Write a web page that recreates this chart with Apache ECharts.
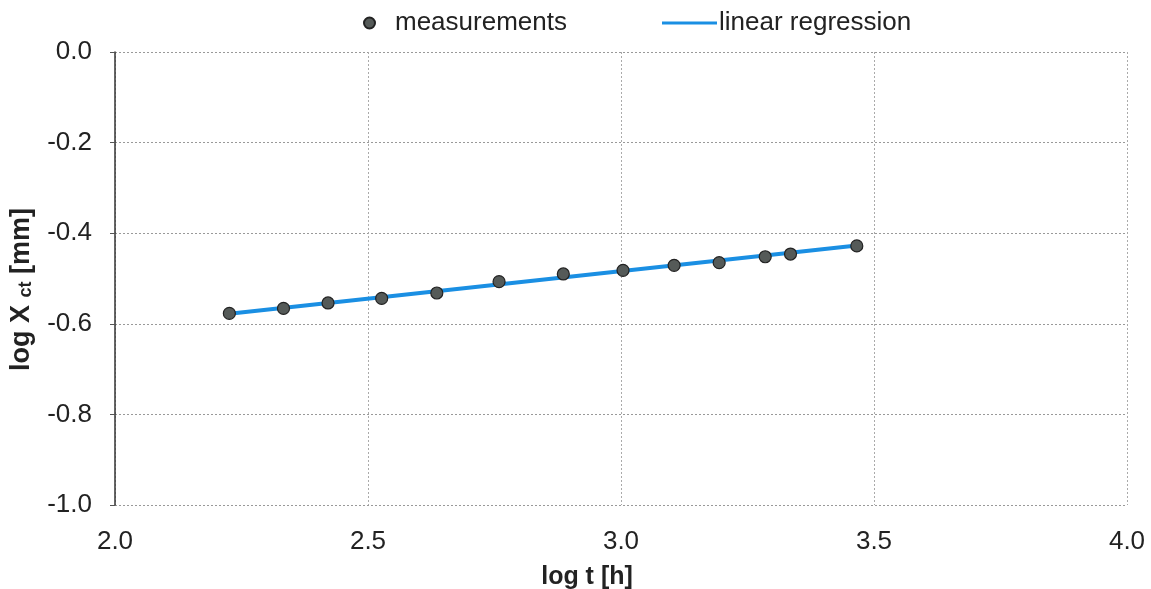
<!DOCTYPE html>
<html>
<head>
<meta charset="utf-8">
<script src="https://cdn.jsdelivr.net/npm/echarts@6/dist/echarts.min.js"></script>
<style>
  html, body { margin: 0; padding: 0; background: #fff; }
  #chart { width: 1151px; height: 589px; }
</style>
</head>
<body>
<div id="chart"></div>
<script>
// log t [h] values of the measurements
const logT = [2.226, 2.333, 2.421, 2.527, 2.636, 2.759, 2.886, 3.004, 3.105, 3.194, 3.285, 3.335, 3.466];
// log X_ct [mm] values of the measurements
const logX = [-0.577, -0.566, -0.554, -0.544, -0.532, -0.507, -0.490, -0.482, -0.471, -0.465, -0.452, -0.446, -0.428];
// regression line end points (x, y)
const regX = [2.226, 3.466];
const regY = [-0.578, -0.427];

const xTicks = ['2.0', '2.5', '3.0', '3.5', '4.0'];
const yTicks = ['-1.0', '-0.8', '-0.6', '-0.4', '-0.2', '0.0'];

const chart = echarts.init(document.getElementById('chart'));

const fontFam = '"Liberation Sans", Arial, sans-serif';

const option = {
  animation: false,
  backgroundColor: '#fff',
  textStyle: { fontFamily: fontFam },
  grid: { left: 115, right: 24, top: 52, bottom: 84, outerBoundsMode: 'none', containLabel: false },
  legend: [
    {
      data: [{ name: 'measurements', icon: 'circle' }],
      left: 358, top: 5,
      itemWidth: 11, itemHeight: 11,
      textStyle: { fontSize: 26, color: '#222', fontFamily: fontFam, padding: [0, 0, 0, 15] }
    },
    {
      data: [{ name: 'linear regression', icon: 'rect' }],
      left: 657, top: 5,
      itemWidth: 55, itemHeight: 3,
      textStyle: { fontSize: 26, color: '#222', fontFamily: fontFam, padding: [0, 0, 0, -3] }
    }
  ],
  xAxis: {
    type: 'value',
    min: 2.0, max: 4.0, interval: 0.5,
    name: 'log t [h]',
    nameLocation: 'middle',
    nameGap: 60,
    nameTextStyle: { fontSize: 25, fontWeight: 'bold', color: '#222', fontFamily: fontFam, padding: [0, 68, 0, 0] },
    axisLine: { show: false },
    axisTick: { show: false },
    axisLabel: {
      margin: 24, fontSize: 26, color: '#222', fontFamily: fontFam,
      formatter: v => xTicks[Math.round((v - 2.0) / 0.5)]
    },
    splitLine: { show: true, lineStyle: { color: '#aaa', type: [2, 2], width: 1 } }
  },
  yAxis: {
    type: 'value',
    min: -1.0, max: 0.0, interval: 0.2,
    name: 'log X {sub|ct} [mm]',
    nameLocation: 'middle',
    nameGap: 80,
    nameRotate: 90,
    nameTextStyle: {
      fontSize: 27, fontWeight: 'bold', color: '#222', fontFamily: fontFam,
      padding: [0, 22, 0, 0],
      rich: {
        sub: { fontSize: 18, fontWeight: 'bold', color: '#222', fontFamily: fontFam, verticalAlign: 'bottom', padding: [9, 0, 0, 0] }
      }
    },
    axisLine: { show: true, lineStyle: { color: '#333', width: 1.5 } },
    axisTick: { show: true, inside: false, length: 5, lineStyle: { color: '#555' } },
    axisLabel: {
      margin: 23, fontSize: 26, color: '#222', fontFamily: fontFam,
      formatter: v => yTicks[Math.round((v + 1.0) / 0.2)]
    },
    splitLine: { show: true, lineStyle: { color: '#999', type: [2, 2], width: 1 } }
  },
  series: [
    {
      name: 'linear regression',
      type: 'line',
      data: regX.map((x, i) => [x, regY[i]]),
      symbol: 'none',
      lineStyle: { color: '#1a8fe3', width: 4 },
      itemStyle: { color: '#1a8fe3' },
      z: 2
    },
    {
      name: 'measurements',
      type: 'scatter',
      data: logT.map((x, i) => [x, logX[i]]),
      symbolSize: 12,
      itemStyle: { color: '#555a58', borderColor: '#222', borderWidth: 1.2, opacity: 1 },
      z: 3
    }
  ]
};

chart.setOption(option);
</script>
</body>
</html>
